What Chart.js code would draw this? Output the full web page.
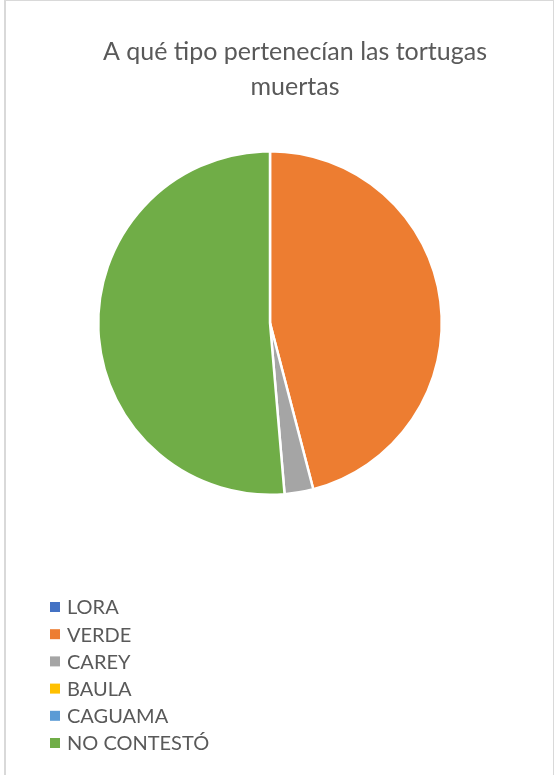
<!DOCTYPE html>
<html>
<head>
<meta charset="utf-8">
<script src="https://cdn.jsdelivr.net/npm/chart.js@4"></script>
<style>
  html, body { margin: 0; padding: 0; background: #fff; }
  #frame {
    position: absolute; left: 4px; top: 0; width: 550px; height: 790px;
    border: 1px solid #d9d9d9; border-width: 1px 1px 0 2px; box-sizing: border-box;
  }
  #wrap { position: absolute; left: 0; top: 0; width: 556px; height: 775px; }
</style>
</head>
<body>
<div id="frame"></div>
<div id="wrap"><canvas id="chartTortugas"></canvas></div>
<script>
const tipos = ["LORA", "VERDE", "CAREY", "BAULA", "CAGUAMA", "NO CONTESTÓ"];
const respuestas = [0, 17, 1, 0, 0, 19];
const colores = ["#4472C4", "#ED7D31", "#A5A5A5", "#FFC000", "#5B9BD5", "#70AD47"];
const titulo = ["A qué tipo pertenecían las tortugas", "muertas"];

const fuente = "Lato, 'Open Sans', sans-serif";
const gris = "#595959";

// título centrado en el marco y leyenda vertical abajo a la izquierda
const textos = {
  id: "textos",
  afterDraw(chart) {
    const ctx = chart.ctx;
    ctx.save();
    ctx.fillStyle = gris;
    ctx.textBaseline = "middle";
    ctx.textAlign = "center";
    ctx.font = "25px " + fuente;
    titulo.forEach((linea, i) => ctx.fillText(linea, 295, 52 + i * 35));

    const labels = chart.data.labels;
    const bg = chart.data.datasets[0].backgroundColor;
    ctx.textAlign = "left";
    ctx.font = "20px " + fuente;
    for (let i = 0; i < labels.length; i++) {
      const y = 607 + i * 27.2;
      ctx.fillStyle = bg[i];
      ctx.fillRect(50, y - 5, 10, 10);
      ctx.fillStyle = gris;
      ctx.fillText(labels[i], 67, y + 1);
    }
    ctx.restore();
  }
};

const ctx = document.getElementById("chartTortugas");
new Chart(ctx, {
  type: "pie",
  data: {
    labels: tipos,
    datasets: [{
      data: respuestas,
      backgroundColor: colores,
      borderColor: "#ffffff",
      borderWidth: 2.5
    }]
  },
  options: {
    responsive: true,
    maintainAspectRatio: false,
    animation: false,
    layout: { padding: { left: 0, right: 16, top: 150, bottom: 279 } },
    plugins: {
      legend: { display: false },
      tooltip: { enabled: false },
      title: { display: false }
    }
  },
  plugins: [textos]
});
</script>
</body>
</html>
